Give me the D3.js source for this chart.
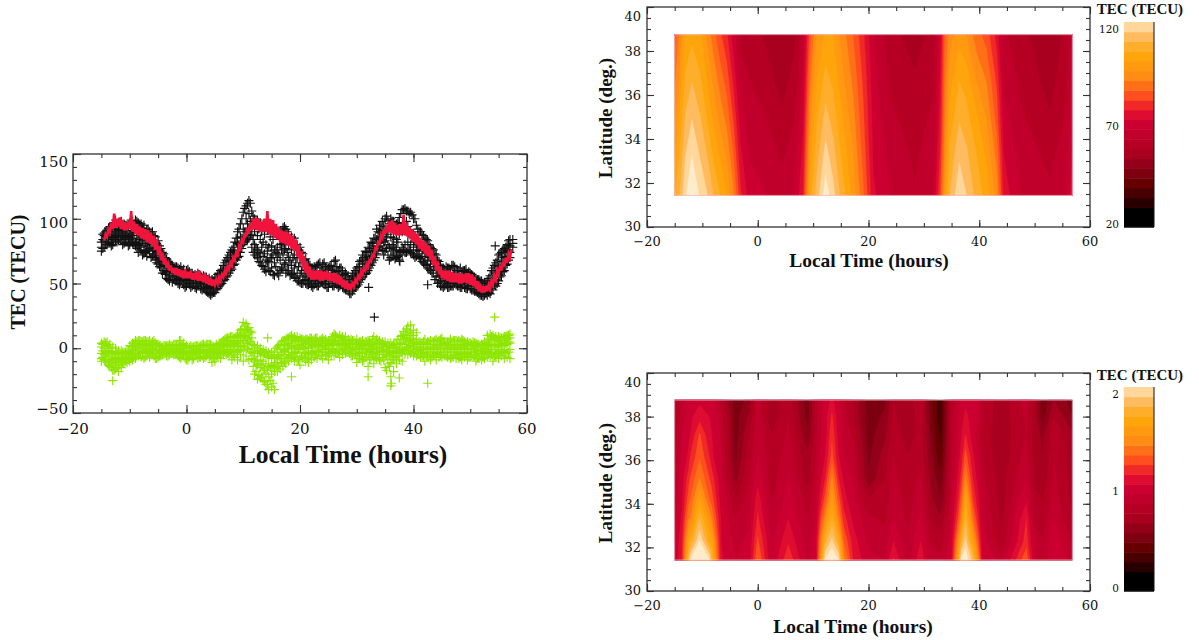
<!DOCTYPE html>
<html><head><meta charset="utf-8">
<script src="https://cdn.jsdelivr.net/npm/d3@7/dist/d3.min.js"></script>
<style>html,body{margin:0;background:#fff}svg{display:block}
text{fill:#111}
.tl{font-family:"DejaVu Serif",serif}
.ti{font-family:"Liberation Serif",serif;font-weight:bold}
</style></head><body><svg id="c" width="1199" height="640"></svg>
<script>
// half-hour rows, first set starting at t = -15, second set at t = -14.75
const scatterStart=-15, scatterStart2=-14.75, scatterStep=0.5;
const blackRows=[[75,78,82],[78,83,87,89],[80,84,88,91],[81,85,90,94],[80,84,88,96],[83,87,92,99],[84,86,91,97],[83,88,90,98],[81,85,89,96],[82,87,91,95],[80,84,88,97],[81,83,90,98],[79,82,92,99],[74,80,89,97],[76,81,87,96],[75,79,86,95],[71,78,84,92],[73,77,85,90],[71,75,82,90],[68,73,80,86],[65,70,76,83],[62,67,72,77],[60,64,68,73],[54,59,63,69],[52,56,62,66],[51,55,60,64],[52,56,59,63],[50,54,58,62],[51,53,57,63],[49,53,56,61],[48,52,55,60],[49,52,56,59],[48,51,54,58],[47,50,54,57],[48,50,53,58],[46,49,52,56],[46,49,53,56],[44,47,51,55],[42,45,49,54],[42,44,48,53],[43,46,49,55],[46,49,52,57],[49,52,55,60],[52,55,59,64],[55,58,62,68],[58,62,67,72],[61,65,70,76],[65,69,75,82],[70,75,81,90],[74,79,86,96],[80,85,92,105],[83,90,100,110],[85,92,104,114],[78,88,96,106],[72,80,90,100],[70,76,87,99],[66,73,84,97],[63,71,82,96],[59,68,80,95],[60,67,78,93],[62,70,79,92],[56,66,76,90],[58,70,78,89],[60,68,80,91],[61,72,81,93],[58,66,77,92],[60,70,80,88],[57,64,76,86],[55,62,72,85],[52,58,70,80],[51,56,66,78],[50,55,63,73],[50,53,60,69],[49,52,58,65],[48,51,56,62],[49,52,58,63],[48,52,58,64],[50,53,59,66],[51,54,60,65],[49,52,57,63],[47,50,58,62],[50,53,60,64],[48,52,60,67],[49,54,59,63],[48,51,56,62],[47,50,56,60],[46,49,53,58],[44,47,51,56],[42,45,49,55],[45,48,53,58],[48,52,56,62],[51,55,60,67],[55,59,65,72],[57,62,68,75],[60,65,71,78],[64,69,75,82],[68,73,79,85],[73,78,84,92],[78,83,89,95],[76,84,91,98],[75,83,90,100],[72,80,88,99],[70,77,86,100],[72,78,85,98],[70,76,84,96],[68,75,88,101],[72,78,90,107],[74,80,92,108],[75,82,94,106],[74,80,90,105],[72,78,88,100],[71,76,84,95],[70,75,82,90],[67,73,80,88],[65,71,78,85],[62,68,76,83],[60,65,72,78],[58,63,70,76],[55,60,66,72],[51,56,61,67],[48,52,57,62],[48,51,56,60],[47,50,55,62],[48,52,57,61],[48,51,56,64],[49,52,55,60],[48,51,55,60],[47,50,54,59],[47,50,55,60],[46,49,54,58],[46,48,52,58],[45,48,51,55],[44,46,50,54],[42,45,49,53],[41,44,48,52],[41,44,47,51],[41,43,47,52],[42,46,50,56],[45,50,54,62],[48,53,58,66],[52,57,63,72],[56,61,67,74],[60,64,70,77],[65,70,75,80],[70,74,79,84],[78,81,84]];
const blackRows2=[[77,84,88],[80,86,90],[82,88,93],[79,86,92],[85,90,97],[82,89,95],[86,92,96],[80,87,94],[84,90,93],[79,86,94],[85,89,99],[80,87,96],[77,85,98],[78,84,94],[72,83,93],[74,81,90],[76,83,92],[70,80,88],[72,78,87],[66,74,81],[63,69,79],[58,66,74],[57,62,70],[53,60,67],[56,60,65],[53,58,62],[52,56,63],[49,55,61],[52,56,60],[47,51,58],[50,54,61],[47,53,57],[50,53,56],[46,51,56],[49,52,57],[45,50,54],[47,51,55],[43,48,53],[41,46,51],[43,47,52],[45,50,54],[48,53,58],[50,54,61],[53,58,66],[56,61,70],[60,66,74],[64,70,78],[68,73,85],[71,80,92],[77,85,100],[82,90,108],[84,96,112],[87,98,112],[74,84,102],[72,78,96],[67,74,92],[64,78,90],[61,73,88],[66,75,91],[59,70,86],[57,72,84],[63,74,92],[56,73,87],[62,76,84],[65,76,94],[60,74,90],[56,68,84],[58,70,83],[54,66,80],[52,63,76],[50,60,74],[52,58,68],[49,55,64],[50,56,64],[47,54,60],[50,56,62],[48,55,65],[51,56,62],[49,56,66],[47,54,61],[50,55,63],[48,56,61],[50,57,68],[47,53,60],[49,54,62],[46,51,57],[45,50,56],[42,48,53],[44,50,56],[47,54,60],[49,57,63],[53,58,68],[57,63,70],[58,66,74],[62,69,77],[66,72,81],[70,76,85],[75,81,90],[79,86,95],[72,82,94],[77,86,102],[68,78,96],[72,80,98],[69,76,94],[71,82,97],[74,92,104],[76,96,107],[74,98,106],[76,90,104],[73,86,103],[70,82,100],[72,80,92],[69,78,90],[66,76,87],[64,74,84],[61,70,80],[58,68,77],[53,63,73],[50,58,68],[48,56,64],[47,54,62],[49,54,63],[47,53,62],[48,54,64],[50,56,63],[48,54,60],[47,53,62],[49,54,60],[46,53,61],[48,53,59],[45,50,57],[44,49,55],[43,48,53],[41,46,52],[40,45,50],[42,46,50],[43,49,54],[46,52,60],[49,56,64],[50,58,68],[55,62,73],[59,66,76],[64,71,78],[68,76,83]];
const blackExtraT=[33.1,54.4,32.1,42.5,37.6,-7.5];
const blackExtraY=[24,79,47,49,67,73];
const greenRows=[[-8,-4,1,4,-10],[-9,-5,0,5,3],[-11,-6,-2,2,5],[-14,-9,-4,0,3],[-17,-12,-8,-3,1],[-16,-11,-7,-4,0],[-18,-13,-8,-5,-2],[-15,-10,-7,-4,-2],[-12,-9,-7,-5,-3],[-11,-8,-6,-4,-2],[-10,-7,-5,-3,2],[-9,-6,-2,1,4],[-8,-4,0,3,6],[-6,-2,1,4,6],[-7,-3,0,3,5],[-8,-3,1,4,6],[-6,-2,1,3,5],[-7,-3,0,2,6],[-5,-2,0,3,5],[-8,-4,-1,1,4],[-7,-4,-1,1,3],[-6,-3,-1,1,2],[-5,-2,0,1,2],[-6,-3,-1,1,2],[-5,-3,-1,1,3],[-4,-2,0,1,2],[-5,-2,0,2,3],[-6,-3,-1,1,3],[-8,-4,-1,2,6],[-5,-2,0,2,4],[-9,-5,-2,0,2],[-7,-4,-2,0,1],[-9,-5,-2,0,1],[-6,-3,-1,0,2],[-8,-4,-2,0,2],[-7,-3,-1,1,2],[-8,-4,-1,1,3],[-6,-3,-1,1,3],[-7,-4,-1,1,3],[-11,-5,-2,0,2],[-10,-6,-3,-1,1],[-7,-4,-2,0,2],[-8,-3,0,2,4],[-5,-2,1,4,6],[-5,-1,2,5,8],[-6,-1,3,6,8],[-9,-3,1,5,9],[-7,-2,3,6,8],[-9,-3,2,6,10],[-5,1,5,9,14],[-10,-2,6,12,20],[-6,4,9,14,19],[-9,-1,5,11,16],[-8,-3,3,8,12],[-20,-10,-4,0,2],[-24,-13,-6,-2,2],[-23,-15,-9,-4,0],[-25,-17,-10,-5,-1],[-28,-20,-12,-6,-2],[-32,-22,-14,-7,-3],[-30,-20,-13,-8,-3],[-32,-18,-11,-6,-3],[-18,-12,-7,-3,1],[-16,-11,-5,-1,3],[-14,-8,-3,2,6],[-12,-6,-1,3,7],[-10,-5,0,4,8],[-8,-3,1,6,10],[-10,-4,1,5,9],[-9,-3,2,5,9],[-13,-6,-1,3,8],[-8,-3,1,5,7],[-10,-4,0,4,7],[-11,-5,0,4,6],[-9,-3,1,5,8],[-7,-2,1,4,7],[-8,-2,2,5,8],[-6,-1,2,4,6],[-8,-3,1,5,8],[-5,-1,2,4,7],[-9,-3,0,3,6],[-6,-1,2,5,7],[-6,-1,3,6,11],[-4,0,3,6,9],[-7,-2,2,6,10],[-5,0,3,6,9],[-4,0,2,5,9],[-3,1,3,5,7],[-6,-2,1,4,7],[-5,-1,1,3,6],[-11,-4,0,3,7],[-8,-3,0,2,5],[-10,-4,-1,2,6],[-7,-3,0,3,5],[-14,-5,-1,3,6],[-9,-3,0,2,4],[-12,-4,-1,3,9],[-8,-3,1,4,7],[-9,-3,0,3,6],[-7,-2,1,3,5],[-15,-5,-1,2,5],[-12,-6,-2,1,4],[-22,-11,-4,0,4],[-18,-9,-3,0,3],[-12,-6,-2,1,3],[-9,-4,-1,1,3],[-10,-4,0,4,10],[-5,-1,3,7,11],[-5,1,5,10,17],[-4,2,7,12,18],[-6,0,5,10,14],[-6,-1,3,7,12],[-5,-2,1,3,5],[-6,-3,0,3,4],[-10,-4,-1,3,7],[-7,-3,0,3,5],[-9,-3,0,3,6],[-6,-3,0,3,5],[-9,-4,-1,2,7],[-7,-3,0,3,6],[-7,-3,0,3,8],[-6,-3,0,2,5],[-7,-3,0,2,5],[-8,-3,0,3,7],[-7,-3,0,3,6],[-8,-3,0,2,6],[-8,-4,0,3,6],[-9,-4,-1,2,7],[-7,-3,0,3,5],[-9,-4,-1,2,5],[-7,-3,-1,2,4],[-7,-3,0,2,5],[-10,-5,-1,1,4],[-8,-4,-1,1,3],[-9,-4,-1,1,3],[-8,-3,0,2,5],[-7,-2,1,5,10],[-6,-1,3,7,11],[-10,-3,2,6,10],[-7,-1,3,6,9],[-8,-2,1,5,9],[-6,-1,3,6,8],[-8,-2,2,6,9],[-7,-1,3,7,10],[-8,-1,4,8,11]];
const greenRows2=[[-7,-2,3],[-10,-3,4],[-13,-6,1],[-15,-9,-2],[-17,-10,-5],[-15,-9,-3],[-13,-8,-4],[-11,-7,-3],[-10,-6,-3],[-9,-5,-2],[-8,-4,2],[-7,-1,4],[-5,1,5],[-4,2,6],[-6,0,5],[-7,-1,6],[-4,2,5],[-5,0,4],[-6,-1,6],[-8,-2,3],[-6,-2,2],[-5,-1,1],[-4,-1,2],[-6,-2,2],[-4,0,2],[-5,-1,3],[-3,0,3],[-7,-1,6],[-6,-2,3],[-8,-3,1],[-9,-3,0],[-6,-2,2],[-8,-4,1],[-5,-1,2],[-7,-2,1],[-6,-2,3],[-7,-1,2],[-5,-2,3],[-6,-1,3],[-8,-2,1],[-6,-1,3],[-5,0,4],[-4,2,5],[-3,3,7],[-4,2,8],[-2,4,9],[-5,2,8],[-3,4,9],[-1,6,11],[2,8,15],[1,10,17],[0,7,15],[-3,5,13],[-14,-4,3],[-18,-9,0],[-21,-12,-2],[-22,-13,-3],[-26,-16,-4],[-28,-17,-5],[-25,-15,-5],[-27,-14,-5],[-15,-8,0],[-14,-6,2],[-11,-3,5],[-10,-2,6],[-8,0,8],[-7,2,9],[-6,1,8],[-7,0,7],[-9,-1,6],[-6,2,7],[-7,0,6],[-8,1,7],[-5,3,8],[-4,2,6],[-5,3,8],[-3,3,5],[-6,1,7],[-3,2,6],[-6,0,5],[-4,3,6],[-2,4,9],[-3,5,10],[-4,3,8],[-2,4,8],[-1,4,7],[-3,2,6],[-4,1,5],[-6,0,6],[-5,1,4],[-8,-1,4],[-6,1,5],[-9,-1,4],[-7,0,5],[-9,-2,5],[-6,1,7],[-7,0,5],[-5,1,5],[-10,-2,4],[-9,-3,3],[-17,-6,2],[-14,-5,2],[-9,-3,2],[-7,-2,3],[-6,1,7],[-3,4,9],[-2,7,13],[0,8,15],[-2,6,12],[-3,4,10],[-4,1,5],[-5,0,4],[-7,-1,4],[-6,-1,5],[-5,0,4],[-5,1,5],[-7,-1,5],[-5,1,6],[-4,1,5],[-6,0,7],[-5,0,4],[-6,-1,4],[-6,1,5],[-7,-1,5],[-5,1,6],[-6,0,5],[-7,-1,5],[-5,1,6],[-6,0,4],[-7,-1,4],[-5,0,3],[-6,-1,4],[-8,-2,3],[-6,-1,2],[-7,-2,3],[-5,1,4],[-4,2,7],[-5,2,9],[-6,3,8],[-4,2,7],[-5,3,8],[-3,4,8],[-4,4,9],[-3,5,10]];
const greenExtraT=[-13,14.3,18.5,32,36,36.1,37.5,42.5,54.3];
const greenExtraY=[-25,8,-22,-22,-29,-27,-23,-27,24];
// red series: low and high per half hour from t = -14.5
const redStart=-14.5, redStep=0.5;
const redRows=[[83,88],[86,92],[90,97],[92,104],[93,100],[94,101],[92,99],[91,97],[91,98],[92,106],[90,98],[88,96],[87,94],[85,93],[84,92],[82,91],[81,89],[79,87],[76,84],[72,79],[68,74],[65,70],[62,67],[60,64],[58,62],[57,62],[56,61],[55,60],[54,61],[54,59],[54,60],[53,58],[53,59],[52,60],[52,57],[51,58],[50,56],[49,54],[48,53],[49,53],[50,55],[52,57],[55,60],[58,63],[61,66],[64,70],[68,74],[72,79],[77,84],[82,89],[86,93],[89,97],[91,100],[92,101],[91,100],[90,98],[90,100],[90,106],[88,100],[87,99],[85,96],[84,94],[82,91],[81,90],[80,90],[79,88],[77,87],[75,84],[71,80],[67,75],[62,71],[58,66],[55,63],[53,60],[53,60],[53,60],[52,60],[52,59],[53,60],[52,58],[52,58],[51,58],[50,57],[49,55],[47,53],[46,52],[45,50],[46,50],[48,53],[51,56],[54,59],[57,62],[60,65],[63,68],[67,72],[71,77],[76,82],[81,87],[85,92],[88,95],[90,98],[89,99],[88,97],[87,95],[87,96],[88,103],[87,97],[86,94],[84,92],[82,90],[80,88],[77,85],[75,83],[73,81],[71,79],[68,76],[64,71],[60,67],[57,63],[54,60],[53,60],[52,60],[51,59],[51,58],[51,58],[50,58],[50,57],[51,58],[50,58],[49,57],[48,55],[46,52],[44,50],[43,48],[43,48],[44,49],[46,52],[49,56],[53,60],[57,64],[60,67],[63,70],[66,73],[70,76]];
// contour grids
const thresholds=[30,35,40,45,50,55,60,65,70,75,80,85,90,95,100,105,110,115,120,125,130];
const bandColors=["#000000","#280000","#480000","#660000","#7c0010","#92001a","#a8001e","#b50024","#c0002a","#cc0030","#de0c30","#f02828","#ff4f1e","#ff6f18","#ff8c14","#ff9a10","#ffa50c","#ffae2c","#ffbb60","#ffd79a","#fdeccc","#fff8ee"];
const latsTop=[31.44,33.3,34.9,36.6,38.74];
const timesTop=[-15,-14,-13.1,-11.9,-10.4,-9.2,-8,-6.8,-5.6,-4.4,-3.1,-1.4,1.6,4.3,6.7,8.2,9.4,10.6,12.25,13.6,15.4,17.2,19.05,20.9,23.9,28.4,31.7,32.9,33.8,34.7,36.4,37.7,39.5,41.3,43.15,44.4,47.4,52.8,55.8,56.8];
const gridTop=[[110,104,99,94,88],[116,111,107,102,97],[124,119.5,115.4,111,106],[130.6,125,120,115,108.5],[124,119.5,115.5,111,106],[120.5,115,110,105,99],[115,109,104,99,92],[110,104,98.5,93,86],[105,99,93.5,88,81],[96,90,84.5,79,72],[81,76,72,68,63],[72,69.5,67,65,62],[70,67,65,62,59],[67,64.3,61,58,55.2],[70,67,65,62,59],[80,77,74,71,68],[107,102,97.5,93,87],[117,112.5,109,105,100],[128,122,117,112,106],[122,117,113,109,105],[112,108,105,101,97],[103,100,97,94,90],[91,88,86,84,81],[76,74,73,72,70],[70,68,66,64,62],[65.5,64,63,61,57],[70,68,66,64,62],[84,80,77,75,72],[103,98,95,93,90],[115,111,107,103,98],[124.5,119,114.5,110,103],[120,116,112,108,100],[113,110,106,100,92],[108,104,100,95,88],[98,93,88,84,78],[78,75,72,69,66],[70,68,66,64,62],[66,63.5,60.5,58,55.2],[70,68,66,64,62],[78,75,73,72,70]];
const latsBot=[31.42,32.3,33.3,34.2,35.2,36.2,37.2,38,38.76];
const timesBot=[-15,-13.7,-12.5,-12.2,-10.5,-8.75,-8.3,-6.6,-4,-1.5,0,2.5,5.5,9,10.5,11.5,12.2,13.4,14.6,15.5,17.2,20,23,24.5,27,29.5,31,33,35,36.2,36.8,37.5,38.8,39.8,40.5,44,48.5,50,51.5,53.5,56.8];
const gridBot=[[1.02,1,0.97,0.95,0.92,0.88,0.85,0.82,0.8],[1.2,1.18,1.12,1.08,1.05,1.02,1,0.95,0.92],[1.9,1.72,1.5,1.35,1.25,1.12,1.08,1.05,1.05],[2.1,1.78,1.5,1.4,1.3,1.2,1.1,1.08,1.06],[2.2,2.1,1.9,1.7,1.5,1.38,1.31,1.15,1.08],[2.1,1.78,1.6,1.4,1.3,1.2,1.12,1.1,1.05],[1.9,1.72,1.5,1.35,1.25,1.12,1.1,1.08,1.04],[1.12,1.1,1.08,1.05,1.02,1,0.98,0.95,0.85],[1,0.97,0.9,0.8,0.66,0.58,0.55,0.55,0.52],[1.05,1.02,0.98,0.95,0.9,0.85,0.8,0.72,0.65],[1.42,1.32,1.22,1.16,1.05,1,0.97,0.95,0.96],[1,0.98,0.93,0.88,0.85,0.83,0.8,0.72,0.75],[1.28,1.18,1.1,1.05,1,0.95,0.92,0.9,0.85],[0.98,0.95,0.9,0.85,0.75,0.72,0.62,0.55,0.55],[1.05,1.05,1,0.97,0.93,0.9,0.85,0.85,0.85],[1.72,1.55,1.35,1.2,1.1,1.05,1,1,0.98],[2.12,1.85,1.55,1.35,1.2,1.1,1.05,1.05,1.02],[2.22,2.03,1.84,1.66,1.52,1.33,1.28,1.22,1.13],[2.1,1.8,1.5,1.35,1.2,1.1,1.05,1.03,1],[1.55,1.4,1.25,1.15,1.08,1,0.97,0.95,0.9],[1.2,1.15,1.08,1.02,0.98,0.92,0.88,0.8,0.8],[1.02,0.98,0.92,0.8,0.62,0.58,0.55,0.55,0.55],[1,0.95,0.88,0.84,0.8,0.75,0.68,0.62,0.58],[1.22,1.1,1,0.97,0.93,0.9,0.86,0.83,0.8],[0.95,0.92,0.88,0.85,0.82,0.8,0.74,0.72,0.72],[1.18,1.1,1.02,0.97,0.92,0.86,0.84,0.87,0.9],[0.95,0.9,0.8,0.75,0.7,0.66,0.62,0.58,0.56],[0.92,0.85,0.72,0.6,0.52,0.42,0.37,0.33,0.33],[1.1,1.05,1,0.95,0.92,0.9,0.88,0.88,0.85],[1.75,1.55,1.32,1.2,1.12,1.05,1,0.98,0.95],[2.15,1.85,1.55,1.4,1.25,1.15,1.1,1.05,1.02],[2.2,2.03,1.88,1.76,1.52,1.35,1.2,1.13,1.07],[1.95,1.7,1.45,1.3,1.2,1.12,1.05,1.05,1.05],[1.55,1.35,1.2,1.12,1.05,1,0.95,1.02,1.02],[1.1,1.05,1,0.97,0.92,0.88,0.85,0.88,0.9],[0.95,0.82,0.78,0.76,0.75,0.73,0.74,0.74,0.74],[1.38,1.25,1.2,1.08,1,0.95,0.9,0.92,0.95],[1,0.95,0.88,0.82,0.78,0.75,0.76,0.75,0.78],[0.92,0.9,0.85,0.8,0.72,0.7,0.67,0.55,0.52],[1.1,1.08,1,0.95,0.92,0.9,0.88,0.8,0.7],[0.95,0.88,0.8,0.78,0.76,0.74,0.72,0.6,0.55]];
const xTickLabels=[-20,0,20,40,60];
const yTickLabelsLeft=[-50,0,50,100,150];
const latTickLabels=[30,32,34,36,38,40];
const MINUS="\u2212";
const svg=d3.select("#c");
const fmt=v=>String(v).replace("-",MINUS);
function frame(g,x,y,xMinor,yMaj,yMinor,majLen,minLen){
  const [l,r]=x.range(),[b,t]=y.range();
  const st=s=>s.call(a=>a.select(".domain").remove()).selectAll("line").attr("stroke","#333").attr("stroke-width",1.1);
  g.append("g").attr("transform",`translate(0,${b})`).call(d3.axisBottom(x).tickValues(xMinor).tickSize(-minLen).tickFormat("")).call(st);
  g.append("g").attr("transform",`translate(0,${t})`).call(d3.axisTop(x).tickValues(xMinor).tickSize(-minLen).tickFormat("")).call(st);
  g.append("g").attr("transform",`translate(0,${b})`).call(d3.axisBottom(x).tickValues(xTickLabels).tickSize(-majLen).tickFormat("")).call(st);
  g.append("g").attr("transform",`translate(0,${t})`).call(d3.axisTop(x).tickValues(xTickLabels).tickSize(-majLen).tickFormat("")).call(st);
  g.append("g").attr("transform",`translate(${l},0)`).call(d3.axisLeft(y).tickValues(yMinor).tickSize(-minLen).tickFormat("")).call(st);
  g.append("g").attr("transform",`translate(${r},0)`).call(d3.axisRight(y).tickValues(yMinor).tickSize(-minLen).tickFormat("")).call(st);
  g.append("g").attr("transform",`translate(${l},0)`).call(d3.axisLeft(y).tickValues(yMaj).tickSize(-majLen).tickFormat("")).call(st);
  g.append("g").attr("transform",`translate(${r},0)`).call(d3.axisRight(y).tickValues(yMaj).tickSize(-majLen).tickFormat("")).call(st);
  g.append("rect").attr("x",l).attr("y",t).attr("width",r-l).attr("height",b-t).attr("fill","none").attr("stroke","#333").attr("stroke-width",1.3);
}
function plus(g,pts,x,y,color,r,w){
  g.append("path").attr("fill","none").attr("stroke",color).attr("stroke-width",w)
   .attr("d",pts.map(p=>{const X=x(p[0]),Y=y(p[1]);return `M${X-r},${Y}H${X+r}M${X},${Y-r}V${Y+r}`}).join(""));
}
// left scatter
(function(){
  const x=d3.scaleLinear().domain([-20,60]).range([73,527]);
  const y=d3.scaleLinear().domain([-50,150]).range([413,154]);
  const g=svg.append("g");
  const expand=(rows,start)=>rows.flatMap((r,i)=>r.map(v=>[start+i*scatterStep,v]));
  const blk=expand(blackRows,scatterStart).concat(expand(blackRows2,scatterStart2),blackExtraT.map((t,i)=>[t,blackExtraY[i]]));
  const grn=expand(greenRows,scatterStart).concat(expand(greenRows2,scatterStart2),greenExtraT.map((t,i)=>[t,greenExtraY[i]]));
  plus(g,blk,x,y,"#111",4.5,1.15);
  plus(g,grn,x,y,"#8ee600",4.5,1.15);
  const redFlat=redRows.flatMap((r,i)=>[[redStart+i*redStep,r[0]],[redStart+i*redStep+redStep/2,r[1]]]);
  const line=d3.line().x(d=>x(d[0])).y(d=>y(d[1]));
  g.append("path").attr("d",line(redFlat)).attr("fill","none").attr("stroke","#f0143c").attr("stroke-width",2.6);
  frame(g,x,y,d3.range(-20,61,5),yTickLabelsLeft,d3.range(-50,151,10),8,4);
  g.selectAll(".xl").data(xTickLabels).join("text").attr("class","tl").attr("x",d=>x(d)).attr("y",434).attr("text-anchor","middle").attr("font-size",15).text(fmt);
  const labelY={"-50":414,"0":353,"50":290,"100":228,"150":167};
  g.selectAll(".yl").data(yTickLabelsLeft).join("text").attr("class","tl").attr("x",68).attr("y",d=>labelY[d]).attr("text-anchor","end").attr("font-size",15).text(fmt);
  g.append("text").attr("class","ti").attr("x",343).attr("y",463).attr("text-anchor","middle").attr("font-size",25.5).text("Local Time (hours)");
  g.append("text").attr("class","ti").attr("transform","translate(25,272) rotate(-90)").attr("text-anchor","middle").attr("font-size",20).text("TEC (TECU)");
})();
function heat(opts){
  const g=svg.append("g");
  const x=d3.scaleLinear().domain([-20,60]).range([647,1090]);
  const y=d3.scaleLinear().domain([30,40]).range([opts.bottom,opts.top]);
  const n=opts.times.length,m=opts.lats.length;
  const tS=d3.scaleLinear().domain(opts.times.map((d,i)=>i)).range(opts.times).clamp(true);
  const lS=d3.scaleLinear().domain(opts.lats.map((d,i)=>i)).range(opts.lats).clamp(true);
  const flat=[];for(let j=0;j<m;j++)for(let i=0;i<n;i++)flat.push(opts.grid[i][j]);
  const levels=thresholds.map(opts.level);
  const path=d3.geoPath(d3.geoTransform({point(a,b){this.stream.point(x(tS(a-0.5)),y(lS(b-0.5)));}}));
  const cs=d3.contours().size([n,m]).thresholds(levels)(flat);
  const rx=x(opts.times[0]),rw=x(opts.times[n-1])-rx,ry=y(opts.lats[m-1]),rh=y(opts.lats[0])-ry;
  g.append("rect").attr("x",rx).attr("width",rw).attr("y",ry).attr("height",rh).attr("fill",bandColors[0]);
  g.selectAll(".b").data(cs).join("path").attr("d",path).attr("fill",(d,i)=>bandColors[i+1]).attr("stroke",(d,i)=>bandColors[i+1]).attr("stroke-width",0.3);
  g.append("rect").attr("x",rx).attr("width",rw).attr("y",ry).attr("height",rh).attr("fill","none").attr("stroke","#f6c8d0").attr("stroke-width",0.8);
  frame(g,x,y,d3.range(-20,61,5),latTickLabels,d3.range(30,40.1,0.5),7,4);
  g.selectAll(".xl").data(xTickLabels).join("text").attr("class","tl").attr("x",d=>x(d)).attr("y",opts.bottom+19).attr("text-anchor","middle").attr("font-size",13).text(fmt);
  const latShift={30:-1,40:9};
  g.selectAll(".yl").data(latTickLabels).join("text").attr("class","tl").attr("x",641).attr("y",d=>y(d)+5+(latShift[d]||0)).attr("text-anchor","end").attr("font-size",13).text(d=>d);
  g.append("text").attr("class","ti").attr("x",opts.titleX).attr("y",opts.bottom+opts.titleDy).attr("text-anchor","middle").attr("font-size",19.5).text("Local Time (hours)");
  g.append("text").attr("class","ti").attr("transform",`translate(612,${(opts.bottom+opts.top)/2+1}) rotate(-90)`).attr("text-anchor","middle").attr("font-size",19).text("Latitude (deg.)");
  // colour bar
  const cb=d3.scaleLinear().domain([opts.level(20),opts.level(125)]).range([opts.bottom,opts.barTop]);
  const edges=[20].concat(thresholds.slice(0,-1)).map(opts.level);
  g.selectAll(".cb").data(edges.slice(0,-1)).join("rect").attr("x",1124).attr("width",30).attr("y",(d,i)=>cb(edges[i+1])).attr("height",(d,i)=>cb(d)-cb(edges[i+1])+0.5).attr("fill",(d,i)=>bandColors[i]);
  g.append("line").attr("x1",1154).attr("x2",1154).attr("y1",opts.barTop).attr("y2",opts.bottom).attr("stroke","#111");
  g.append("line").attr("x1",1124).attr("x2",1154).attr("y1",opts.bottom).attr("y2",opts.bottom).attr("stroke","#111");
  g.selectAll(".cl").data(opts.barTicks).join("text").attr("class","tl").attr("x",1119).attr("y",d=>cb(d)+1).attr("text-anchor","end").attr("font-size",10.5).text(d=>d);
  g.append("text").attr("class","ti").attr("x",1140).attr("y",opts.top+7).attr("text-anchor","middle").attr("font-size",15).text("TEC (TECU)");
}
heat({times:timesTop,lats:latsTop,grid:gridTop,top:7,bottom:227,barTop:22,titleX:869,titleDy:40,level:v=>v,barTicks:[20,70,120]});
heat({times:timesBot,lats:latsBot,grid:gridBot,top:373,bottom:591,barTop:387,titleX:853,titleDy:42,level:v=>(v-20)/50,barTicks:[0,1,2]});
</script></body></html>
